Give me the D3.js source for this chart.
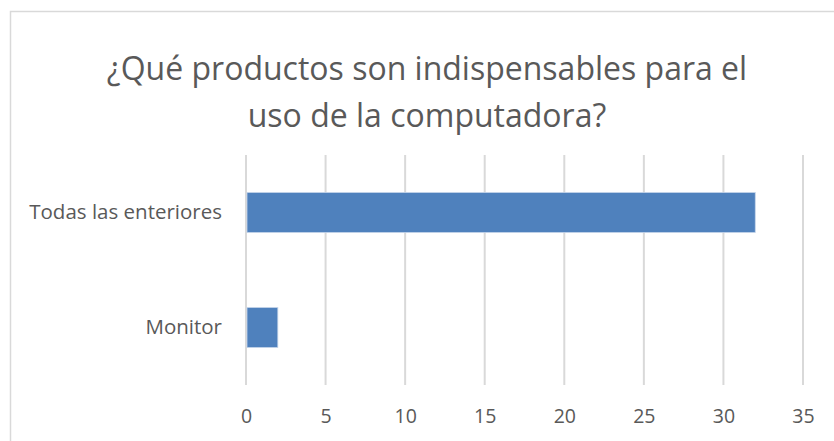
<!DOCTYPE html>
<html>
<head>
<meta charset="utf-8">
<script src="https://cdn.jsdelivr.net/npm/d3@7"></script>
<style>
  body { margin: 0; background: #fff; }
  text { font-family: "Open Sans", "Noto Sans", sans-serif; fill: #595959; }
</style>
</head>
<body>
<svg id="chart" width="834" height="441"></svg>
<script>
const categories = ['Todas las enteriores', 'Monitor'];
const values = [32, 2];
const ticks = [0, 5, 10, 15, 20, 25, 30, 35];
const titleLines = ['¿Qué productos son indispensables para el', 'uso de la computadora?'];

const svg = d3.select('#chart');
const margin = { top: 155, left: 246, right: 31, bottom: 56 };
const width = 834 - margin.left - margin.right;
const height = 441 - margin.top - margin.bottom;

// chart frame (runs off the right and bottom of the picture)
svg.append('rect')
  .attr('x', 10.5).attr('y', 11.5)
  .attr('width', 900).attr('height', 600)
  .attr('fill', 'none')
  .attr('stroke', '#d9d9d9')
  .attr('stroke-width', 1.5);

svg.append('g').selectAll('text')
  .data(titleLines).enter().append('text')
  .attr('x', 427)
  .attr('y', (d, i) => 80 + i * 47)
  .attr('text-anchor', 'middle')
  .attr('font-size', 32)
  .text(d => d);

const xScale = d3.scaleLinear().domain([0, 35]).range([0, width]);
const yScale = d3.scaleBand().domain(categories).range([0, height])
  .paddingInner(0.652).paddingOuter(0.326);

const g = svg.append('g').attr('transform', `translate(${margin.left}, ${margin.top})`);

g.selectAll('.grid').data(ticks).enter().append('line')
  .attr('x1', d => xScale(d)).attr('x2', d => xScale(d))
  .attr('y1', 0).attr('y2', height)
  .attr('stroke', '#d9d9d9')
  .attr('stroke-width', 2);

g.selectAll('.bar').data(values).enter().append('rect')
  .attr('x', xScale(0) + 1)
  .attr('y', (d, i) => yScale(categories[i]))
  .attr('width', d => xScale(d) - xScale(0) - 1)
  .attr('height', yScale.bandwidth())
  .attr('fill', '#4f81bd')
  .attr('stroke', '#c5d5ea')
  .attr('stroke-width', 0.8);

const xAxis = g.append('g')
  .attr('transform', `translate(0, ${height})`)
  .call(d3.axisBottom(xScale).tickValues(ticks).tickSize(0).tickPadding(24));
xAxis.select('.domain').remove();
xAxis.selectAll('text').attr('font-size', 19.5).attr('fill', '#595959');

const yAxis = g.append('g')
  .call(d3.axisLeft(yScale).tickSize(0).tickPadding(24));
yAxis.select('.domain').remove();
yAxis.selectAll('text').attr('font-size', 20.5).attr('fill', '#595959');
svg.selectAll('.tick text').attr('font-family', '"Open Sans", "Noto Sans", sans-serif');
</script>
</body>
</html>
